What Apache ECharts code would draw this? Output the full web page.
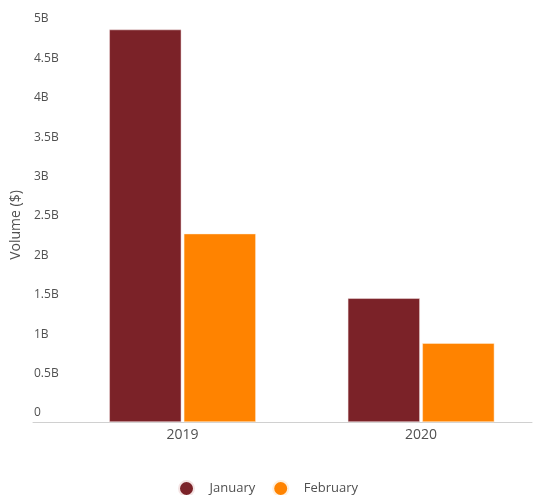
<!DOCTYPE html>
<html>
<head>
<meta charset="utf-8">
<script src="https://cdn.jsdelivr.net/npm/echarts@6/dist/echarts.min.js"></script>
<style>
  html, body { margin: 0; padding: 0; background: #fff; }
  #chart { width: 534px; height: 495px; }
</style>
</head>
<body>
<div id="chart"></div>
<script>
// Trading volume by month, in billions of dollars
const years = [2019, 2020];
const january = [4.98, 1.57];
const february = [2.39, 1.00];
const yTicks = [0, 0.5, 1, 1.5, 2, 2.5, 3, 3.5, 4, 4.5, 5];

const FONT = '"Open Sans", "Noto Sans", sans-serif';
const TEXT = '#505050';

const chart = echarts.init(document.getElementById('chart'), null, { renderer: 'canvas' });

chart.setOption({
  animation: false,
  textStyle: { fontFamily: FONT },
  grid: { left: 33, right: 2, top: 28, bottom: 73 },
  legend: {
    data: ['January', 'February'],
    icon: 'circle',
    left: 173,
    top: 475,
    itemWidth: 36,
    itemHeight: 15,
    itemGap: 17,
    textStyle: { fontFamily: FONT, fontSize: 13, color: TEXT }
  },
  xAxis: {
    type: 'value',
    min: 2018.373,
    max: 2020.465,
    splitLine: { show: false },
    axisTick: { show: false },
    axisLine: { show: true, lineStyle: { color: '#d0d0d0', width: 1 } },
    axisLabel: {
      customValues: years,
      formatter: v => String(v),
      color: TEXT,
      fontFamily: FONT,
      fontSize: 14,
      margin: 6
    }
  },
  yAxis: {
    type: 'value',
    min: 0,
    max: 5,
    interval: 0.5,
    name: 'Volume ($)',
    nameLocation: 'middle',
    nameRotate: 90,
    nameGap: 7,
    nameTextStyle: { color: TEXT, fontFamily: FONT, fontSize: 14 },
    axisLine: { show: false },
    axisTick: { show: false },
    splitLine: { show: false },
    axisLabel: {
      customValues: yTicks,
      inside: true,
      align: 'left',
      verticalAlign: 'bottom',
      padding: [0, 0, 3, 0],
      margin: 1,
      color: TEXT,
      fontFamily: FONT,
      fontSize: 12,
      formatter: v => (v === 0 ? '0' : v + 'B')
    }
  },
  series: [
    {
      name: 'January',
      type: 'bar',
      barWidth: 72,
      barGap: '3.5%',
      itemStyle: { color: '#7b2228', borderColor: '#f4e4e4', borderWidth: 0.5 },
      data: years.map((y, i) => [y, january[i]])
    },
    {
      name: 'February',
      type: 'bar',
      barWidth: 72,
      barGap: '3.5%',
      itemStyle: { color: '#ff8300', borderColor: '#fff0dd', borderWidth: 0.5 },
      data: years.map((y, i) => [y, february[i]])
    }
  ]
});
</script>
</body>
</html>
